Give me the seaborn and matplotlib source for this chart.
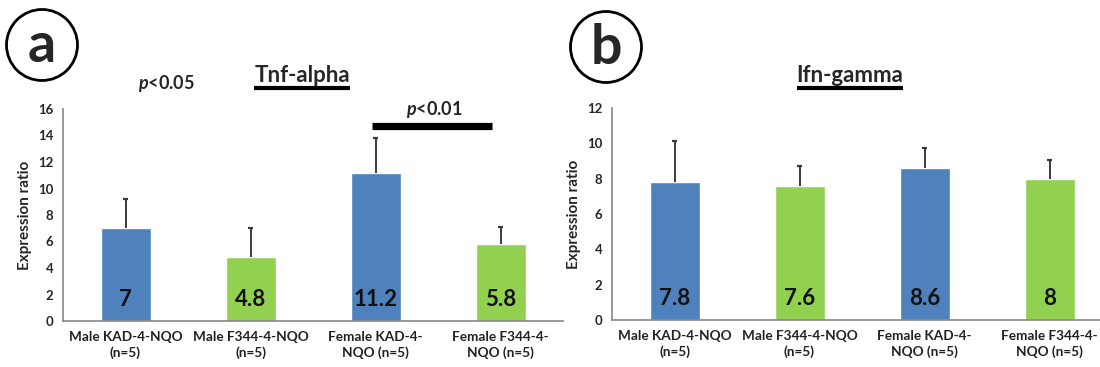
import matplotlib
matplotlib.use("Agg")
import matplotlib.pyplot as plt
import matplotlib.transforms as mtransforms
from matplotlib.patches import Ellipse
from matplotlib.lines import Line2D
import seaborn as sns
import pandas as pd
import numpy as np

categories = ["Male KAD-4-NQO\n(n=5)", "Male F344-4-NQO\n(n=5)",
              "Female KAD-4-\nNQO (n=5)", "Female F344-4-\nNQO (n=5)"]
tnf_values = [7, 4.8, 11.2, 5.8]
tnf_errors = [2.2, 2.2, 2.6, 1.3]
ifn_values = [7.8, 7.6, 8.6, 8]
ifn_errors = [2.35, 1.1, 1.13, 1.05]
value_labels_tnf = ["7", "4.8", "11.2", "5.8"]
value_labels_ifn = ["7.8", "7.6", "8.6", "8"]
bar_colors = ["#4F81BD", "#92D050", "#4F81BD", "#92D050"]

sns.set_style("white")
plt.rcParams['font.family'] = ['Lato', 'DejaVu Sans']
plt.rcParams['mathtext.fontset'] = 'custom'
plt.rcParams['mathtext.it'] = 'Lato:italic:bold'
plt.rcParams['mathtext.rm'] = 'Lato:bold'

W, H = 1100, 367
fig = plt.figure(figsize=(11, 3.67), dpi=100)

def px(x0, y0, x1, y1):
    return [x0 / W, 1 - y1 / H, (x1 - x0) / W, (y1 - y0) / H]

axL = fig.add_axes(px(63, 109, 563, 321))
axR = fig.add_axes(px(612, 108, 1112, 320))

def draw(ax, vals, errs, labels, ymax, title, title_xy):
    df = pd.DataFrame({"cat": categories, "val": vals})
    sns.barplot(data=df, x="cat", y="val", hue="cat", palette=bar_colors,
                width=0.4, ax=ax, legend=False, saturation=1)
    xs = np.arange(len(vals))
    tops = np.array(vals) + np.array(errs)
    ax.vlines(xs, vals, tops, color="#3a3a3a", linewidth=1.4)
    ax.hlines(tops, xs - 0.022, xs + 0.022, color="#3a3a3a", linewidth=1.6)
    trans = mtransforms.blended_transform_factory(ax.transData, ax.transAxes)
    for i, t in enumerate(labels):
        ax.text(i, 0.1, t, transform=trans, ha="center", va="center",
                fontsize=16, fontweight="bold", color="#111111")
    ax.set_xlim(-0.5, 3.5)
    ax.set_ylim(0, ymax)
    ax.set_yticks(np.arange(0, ymax + 1, 2))
    ax.set_xlabel("")
    ax.set_ylabel("Expression ratio", fontsize=11, fontweight="bold", labelpad=4)
    for s in ["top", "right"]:
        ax.spines[s].set_visible(False)
    for s in ["left", "bottom"]:
        ax.spines[s].set_color("#868686")
        ax.spines[s].set_linewidth(1.2)
    ax.set_xticks(np.arange(-0.5, 4, 1), minor=True)
    ax.tick_params(axis="x", which="major", length=0, pad=7, labelsize=9.8)
    ax.tick_params(axis="x", which="minor", length=5, color="#868686", direction="out", width=1.2)
    ax.tick_params(axis="y", length=4, color="#868686", direction="out", width=1.2,
                   labelsize=9.5, pad=3)
    for lab in ax.get_xticklabels():
        lab.set_fontweight("bold")
        lab.set_color("#222222")
        lab.set_linespacing(1.35)
    for lab in ax.get_yticklabels():
        lab.set_fontweight("bold")
    ax.grid(False)
    tt = fig.text(title_xy[0] / W, 1 - title_xy[1] / H, title, ha="center", va="center",
                  fontsize=16, fontweight="bold")
    return tt

tL = draw(axL, tnf_values, tnf_errors, value_labels_tnf, 16, "Tnf-alpha", (302, 76))
tR = draw(axR, ifn_values, ifn_errors, value_labels_ifn, 12, "Ifn-gamma", (850, 76))

# significance annotations
fig.text(166 / W, 1 - 83 / H, r"$p$<0.05", ha="center", va="center",
         fontsize=13, fontweight="bold")
fig.text(434 / W, 1 - 110 / H, r"$p$<0.01", ha="center", va="center",
         fontsize=13, fontweight="bold")
fig.add_artist(Line2D([372 / W, 492 / W], [1 - 125.5 / H, 1 - 125.5 / H],
                      color="black", linewidth=5.2, solid_capstyle="butt"))

# panel letters in circles
for (cx, cy, letter) in [(42, 45, "a"), (606, 47, "b")]:
    fig.add_artist(Ellipse((cx / W, 1 - cy / H), 71 / W, 71 / H, fill=False,
                           edgecolor="black", linewidth=2.0, transform=fig.transFigure))
    fig.text(cx / W, 1 - (cy + 1) / H, letter, ha="center", va="center",
             fontsize=40, fontweight="bold")

# underline titles
fig.canvas.draw()
r = fig.canvas.get_renderer()
for t in (tL, tR):
    bb = t.get_window_extent(renderer=r).transformed(fig.transFigure.inverted())
    y = bb.y0 - 1.0 / H
    fig.add_artist(Line2D([bb.x0, bb.x1], [y, y], color="black", linewidth=3,
                          solid_capstyle="butt"))

fig.savefig("out.png", dpi=100)
